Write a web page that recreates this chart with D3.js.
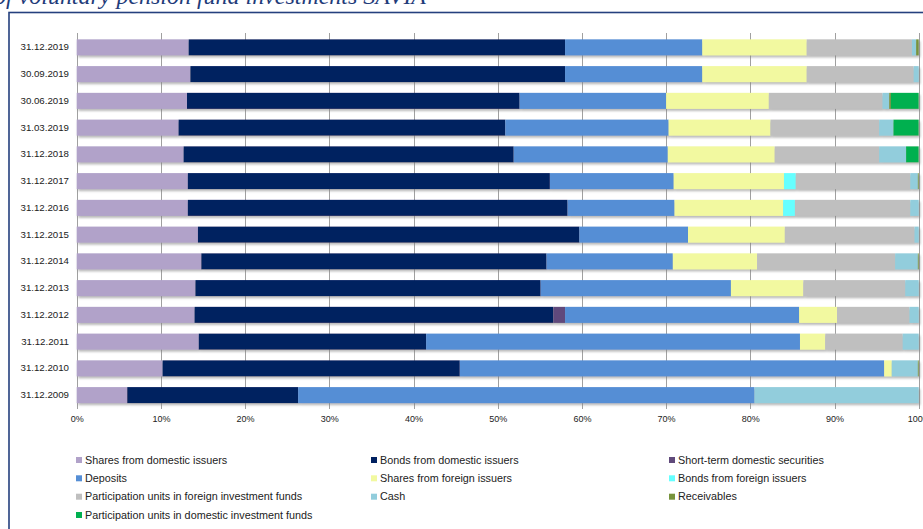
<!DOCTYPE html>
<html>
<head>
<meta charset="utf-8">
<script src="https://cdn.jsdelivr.net/npm/d3@7"></script>
<style>
  html, body { margin: 0; padding: 0; background: #fff; }
  svg { display: block; }
</style>
</head>
<body>
<svg id="chart" width="923" height="529"></svg>
<script>
const dates = ["31.12.2019","30.09.2019","30.06.2019","31.03.2019","31.12.2018","31.12.2017","31.12.2016","31.12.2015","31.12.2014","31.12.2013","31.12.2012","31.12.2011","31.12.2010","31.12.2009"];

const seriesNames = [
  "Shares from domestic issuers",
  "Bonds from domestic issuers",
  "Short-term domestic securities",
  "Deposits",
  "Shares from foreign issuers",
  "Bonds from foreign issuers",
  "Participation units in foreign investment funds",
  "Cash",
  "Receivables",
  "Participation units in domestic investment funds"
];

const sharesDomestic   = [13.3,13.5,13.1,12.1,12.7,13.2,13.2,14.4,14.8,14.1,14.0,14.5,10.2, 6.0];
const bondsDomestic    = [44.7,44.5,39.5,38.8,39.2,43.0,45.1,45.3,41.0,41.0,42.6,27.0,35.3,20.3];
const shortTerm        = [ 0.0, 0.0, 0.0, 0.0, 0.0, 0.0, 0.0, 0.0, 0.0, 0.0, 1.4, 0.0, 0.0, 0.0];
const deposits         = [16.3,16.3,17.4,19.4,18.3,14.7,12.7,12.9,15.0,22.6,27.8,44.4,50.4,54.2];
const sharesForeign    = [12.4,12.4,12.2,12.1,12.7,13.1,12.9,11.5,10.0, 8.6, 4.5, 3.0, 0.9, 0.0];
const bondsForeign     = [ 0.0, 0.0, 0.0, 0.0, 0.0, 1.4, 1.4, 0.0, 0.0, 0.0, 0.0, 0.0, 0.0, 0.0];
const fundsForeign     = [12.5,12.7,13.5,12.9,12.4,13.6,13.7,15.4,16.4,12.1, 8.6, 9.2, 0.0, 0.0];
const cash             = [ 0.5, 0.6, 0.8, 1.7, 3.2, 0.9, 1.0, 0.5, 2.7, 1.6, 1.1, 1.9, 3.1,19.5];
const receivables      = [ 0.3, 0.0, 0.2, 0.0, 0.0, 0.1, 0.0, 0.0, 0.1, 0.0, 0.0, 0.0, 0.1, 0.0];
const fundsDomestic    = [ 0.0, 0.0, 3.3, 3.0, 1.5, 0.0, 0.0, 0.0, 0.0, 0.0, 0.0, 0.0, 0.0, 0.0];

const xTickLabels = ["0%","10%","20%","30%","40%","50%","60%","70%","80%","90%","100%"];

const colors = ["#b1a2c9","#002060","#604a7b","#558ed5","#f2f9a0","#66ffff","#bfbfbf","#92cddc","#77933c","#00b050"];

const seriesValues = [sharesDomestic,bondsDomestic,shortTerm,deposits,sharesForeign,bondsForeign,fundsForeign,cash,receivables,fundsDomestic];

const rows = dates.map((d,i) => {
  const r = {date: d};
  seriesNames.forEach((s,k) => r[s] = seriesValues[k][i]);
  return r;
});

const svg = d3.select("#chart");

// defs: drop shadow
const defs = svg.append("defs");
const f = defs.append("filter").attr("id","shadow").attr("x","-5%").attr("y","-30%").attr("width","110%").attr("height","180%");
f.append("feDropShadow").attr("dx",1.5).attr("dy",2).attr("stdDeviation",1)
  .attr("flood-color","#808080").attr("flood-opacity",0.55);

// title (cut off at top)
svg.append("text")
  .attr("x", -6).attr("y", 4)
  .attr("font-family", "'Liberation Serif', 'DejaVu Serif', serif")
  .attr("font-style", "italic")
  .attr("font-size", 23)
  .attr("fill", "#1f3c7a")
  .attr("textLength", 432)
  .attr("lengthAdjust", "spacingAndGlyphs")
  .text("of voluntary pension fund investments SAVIA");

// frame
svg.append("rect")
  .attr("x", 9).attr("y", 12.5).attr("width", 1000).attr("height", 1000)
  .attr("fill", "none").attr("stroke", "#25407e").attr("stroke-width", 1.6);

const x = d3.scaleLinear().domain([0,1]).range([76.7, 918.7]);
const y = d3.scaleBand().domain(dates).range([34, 408.5]).paddingInner(0.4).paddingOuter(0.2);

// gridlines
const ticks = d3.range(0, 11).map(i => i/10);
svg.append("g").selectAll("line").data(ticks).join("line")
  .attr("x1", d => Math.round(x(d)) + 0.5).attr("x2", d => Math.round(x(d)) + 0.5)
  .attr("y1", 33).attr("y2", 409)
  .attr("stroke", "#a0a0a0").attr("stroke-width", 1);

// x axis labels
const xAxis = d3.axisBottom(x).tickValues(ticks).tickSize(0).tickPadding(0)
  .tickFormat((d,i) => xTickLabels[i]);
const gx = svg.append("g").attr("transform", "translate(0,416)").call(xAxis);
gx.select(".domain").remove();
gx.selectAll("text")
  .attr("font-family", "'Liberation Sans', Arial, sans-serif")
  .attr("font-size", 9).attr("fill", "#222").attr("dy", "0.71em");

// y axis labels
const yAxis = d3.axisLeft(y).tickSize(0).tickPadding(0);
const gy = svg.append("g").attr("transform", "translate(69,0)").call(yAxis);
gy.select(".domain").remove();
gy.selectAll("text")
  .attr("font-family", "'Liberation Sans', Arial, sans-serif")
  .attr("font-size", 9.7).attr("fill", "#222");

// stacked bars
const stack = d3.stack().keys(seriesNames).offset(d3.stackOffsetExpand);
const stacked = stack(rows);

const rowGroups = svg.append("g").selectAll("g.row").data(dates).join("g")
  .attr("class","row").attr("filter","url(#shadow)");

rowGroups.each(function(date, i) {
  const g = d3.select(this);
  stacked.forEach((layer, k) => {
    const seg = layer[i];
    if (seg[1] - seg[0] <= 0) return;
    g.append("rect")
      .attr("x", x(seg[0]))
      .attr("y", y(date))
      .attr("width", x(seg[1]) - x(seg[0]))
      .attr("height", y.bandwidth())
      .attr("fill", colors[k]);
  });
});

// legend
const legCols = [76, 371, 669];
const legRows = [460, 478.3, 496.7, 515];
const legend = svg.append("g").selectAll("g").data(seriesNames).join("g")
  .attr("transform", (d,i) => `translate(${legCols[i%3]},${legRows[Math.floor(i/3)]})`);
legend.append("rect").attr("x", 0).attr("y", -3).attr("width", 6).attr("height", 6)
  .attr("fill", (d,i) => colors[i]);
legend.append("text").attr("x", 9).attr("y", 0).attr("dy", "0.35em")
  .attr("font-family", "'Liberation Sans', Arial, sans-serif")
  .attr("font-size", 10.8).attr("fill", "#222")
  .text(d => d);
</script>
</body>
</html>
